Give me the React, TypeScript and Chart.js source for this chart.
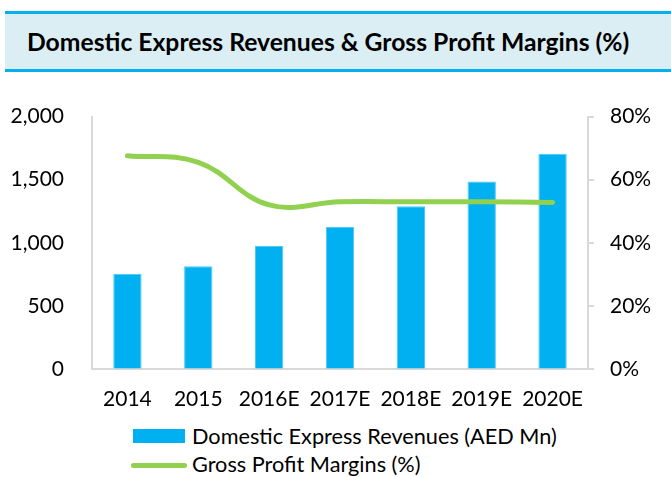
import React, { useEffect, useRef } from "react";
import { Chart, registerables } from "chart.js";

Chart.register(...registerables);

const title = "Domestic Express Revenues & Gross Profit Margins (%)";
const categories = ["2014", "2015", "2016E", "2017E", "2018E", "2019E", "2020E"];
const revenues = [755, 815, 975, 1125, 1290, 1485, 1705];
const margins = [67.6, 65.5, 52.0, 53.0, 53.0, 53.0, 52.8];
const revenueLabel = "Domestic Express Revenues (AED Mn)";
const marginLabel = "Gross Profit Margins (%)";

const BLUE = "#00B0F0";
const GREEN = "#92D050";
const AXIS = "#D9D9D9";
const FONT = "Lato, 'Open Sans', sans-serif";

export default function App() {
  const ref = useRef<HTMLCanvasElement | null>(null);

  useEffect(() => {
    if (!ref.current) return;
    const chart = new Chart(ref.current, {
      type: "bar",
      data: {
        labels: categories,
        datasets: [
          {
            type: "line",
            label: marginLabel,
            data: margins,
            yAxisID: "y1",
            borderColor: GREEN,
            backgroundColor: GREEN,
            borderWidth: 5,
            borderCapStyle: "round",
            pointRadius: 0,
            tension: 0.4,
            order: 0,
          } as any,
          {
            type: "bar",
            label: revenueLabel,
            data: revenues,
            yAxisID: "y",
            backgroundColor: BLUE,
            borderColor: "#4CC8F5",
            borderWidth: 1,
            categoryPercentage: 1,
            barPercentage: 0.4,
            order: 1,
          } as any,
        ],
      },
      options: {
        animation: false,
        responsive: false,
        maintainAspectRatio: false,
        layout: { padding: 0 },
        plugins: {
          legend: { display: false },
          tooltip: { enabled: false },
          title: { display: false },
        },
        scales: {
          x: {
            offset: true,
            grid: { display: true, drawOnChartArea: false, drawTicks: false, color: AXIS },
            border: { display: true, color: AXIS, width: 2 },
            ticks: { color: "#000", font: { family: FONT, size: 21 }, padding: 18, maxRotation: 0 },
            afterFit: (s: any) => { s.height = 51; },
          },
          y: {
            position: "left",
            min: 0,
            max: 2000,
            grid: {
              display: true,
              drawOnChartArea: false,
              drawTicks: true,
              tickLength: 28,
              color: AXIS,
              tickColor: "rgba(0,0,0,0)",
            },
            border: { display: true, color: AXIS, width: 2 },
            ticks: {
              stepSize: 500,
              color: "#000",
              font: { family: FONT, size: 21 },
              padding: 0,
              callback: (v: any) => Number(v).toLocaleString("en-US"),
            },
            afterFit: (s: any) => { s.width = 92; },
          },
          y1: {
            position: "right",
            min: 0,
            max: 80,
            grid: { display: true, drawOnChartArea: false, drawTicks: true, tickLength: 6, color: AXIS, lineWidth: 2 },
            border: { display: true, color: AXIS, width: 2 },
            ticks: {
              stepSize: 20,
              color: "#000",
              font: { family: FONT, size: 21 },
              padding: 16,
              callback: (v: any) => `${v}%`,
            },
            afterFit: (s: any) => { s.width = 83; },
          },
        },
      },
    });
    return () => chart.destroy();
  }, []);

  const legendText: React.CSSProperties = {
    position: "absolute",
    left: 192,
    height: 26,
    lineHeight: "26px",
    fontFamily: FONT,
    fontSize: 21.7,
    color: "#000",
    whiteSpace: "nowrap",
  };

  return (
    <div style={{ position: "absolute", left: 0, top: 0, width: 671, height: 477, overflow: "hidden", background: "#fff" }}>
      <div
        style={{
          position: "absolute",
          left: 5,
          top: 11,
          width: 666,
          height: 55,
          background: "#DAEEF3",
          borderTop: `3px solid ${BLUE}`,
          borderBottom: `3px solid ${BLUE}`,
        }}
      >
        <div
          style={{
            position: "absolute",
            left: 22,
            top: 0,
            height: 55,
            lineHeight: "55px",
            fontFamily: FONT,
            fontWeight: 700,
            fontSize: 24.7,
            color: "#000",
            whiteSpace: "nowrap",
          }}
        >
          {title}
        </div>
      </div>
      <canvas
        ref={ref}
        width={671}
        height={332}
        style={{ position: "absolute", left: 0, top: 88, width: 671, height: 332 }}
      />
      <div style={{ position: "absolute", left: 133, top: 429, width: 52, height: 14, background: BLUE }} />
      <div style={{ ...legendText, top: 423 }}>{revenueLabel}</div>
      <div style={{ position: "absolute", left: 131, top: 463, width: 56, height: 5, borderRadius: 3, background: GREEN }} />
      <div style={{ ...legendText, top: 451 }}>{marginLabel}</div>
    </div>
  );
}
